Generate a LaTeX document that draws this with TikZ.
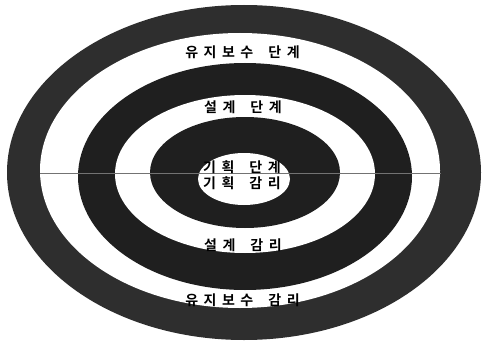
\documentclass[tikz,border=0pt]{standalone}
\usepackage{fontspec}
\newfontfamily\kr{Noto Sans CJK KR}[BoldFont={Noto Sans CJK KR Bold}]
\newcommand\cgap{\hspace{5.5pt}}
\newcommand\wgap{\hspace{15pt}}
\tikzset{
  ringdark/.style={fill=black!82},
  ringdarker/.style={fill=black!88},
  ringwhite/.style={fill=white},
  label/.style={font=\kr\bfseries\fontsize{14}{16}\selectfont, text=black, inner sep=0pt},
  axisline/.style={draw=black!55, line width=0.6pt}
}
\begin{document}
\begin{tikzpicture}[x=1pt,y=-1pt]
\useasboundingbox (0,0) rectangle (482,345);
\fill[white] (0,0) rectangle (482,345);
% rings
\fill[ringdark]   (244,172.5) ellipse [x radius=237, y radius=167.5];
\fill[ringwhite]  (240,170.5) ellipse [x radius=200, y radius=137.5];
\fill[ringdarker] (245,176.5) ellipse [x radius=167, y radius=113.5];
\fill[ringwhite]  (245,174)   ellipse [x radius=130, y radius=79];
\fill[ringdarker] (245,172.5) ellipse [x radius=95,  y radius=55.5];
\fill[ringwhite]  (244,179)   ellipse [x radius=46,  y radius=26];
% horizontal axis
\coordinate (axL) at (40,173);
\coordinate (axR) at (441,173);
\draw[axisline] (axL) -- (axR);
% labels
\node[label] (m1) at (242.5,52)  {유\cgap 지\cgap 보\cgap 수\wgap 단\cgap 계};
\node[label] (d1) at (243,107)   {설\cgap 계\wgap 단\cgap 계};
\node[label] (p1) at (242,167)   {기\cgap 획\wgap 단\cgap 계};
\node[label] (p2) at (242,183.5) {기\cgap 획\wgap 감\cgap 리};
\node[label] (d2) at (243,245)   {설\cgap 계\wgap 감\cgap 리};
\node[label] (m2) at (242.5,300) {유\cgap 지\cgap 보\cgap 수\wgap 감\cgap 리};
\end{tikzpicture}
\end{document}
